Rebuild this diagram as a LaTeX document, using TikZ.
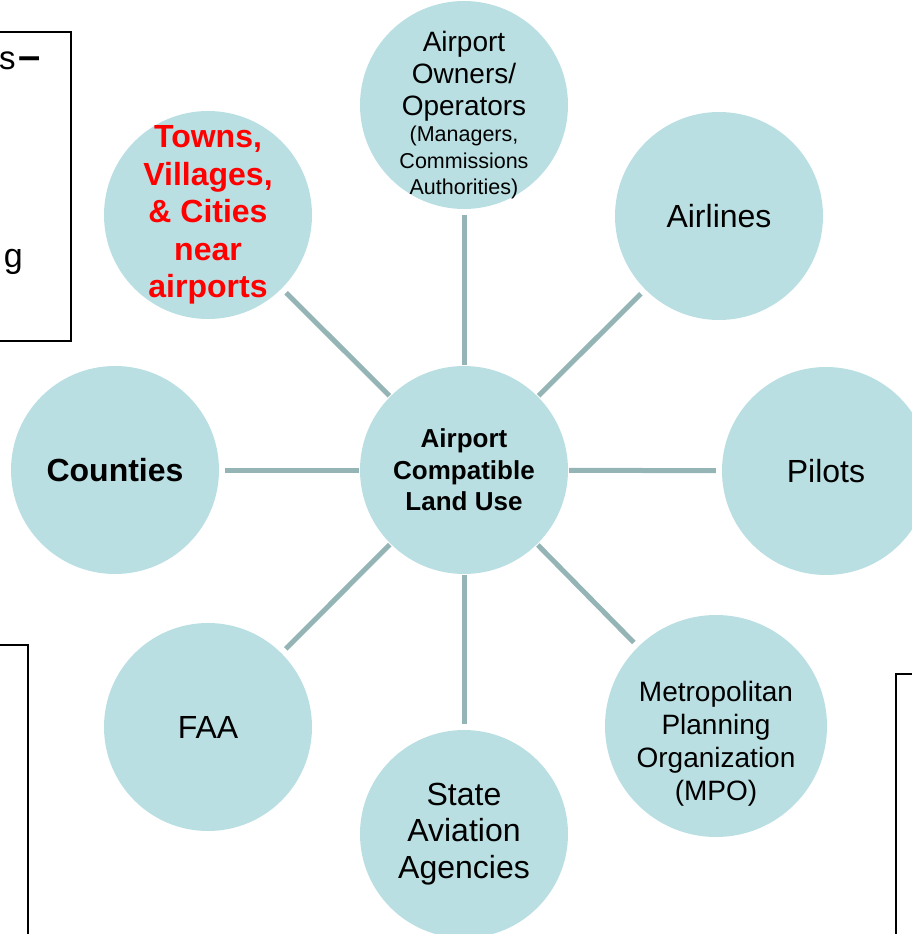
\documentclass[tikz,border=0pt]{standalone}
\usepackage{fontspec}
\setmainfont{Liberation Sans}
\usetikzlibrary{calc}
\definecolor{bubblefill}{RGB}{186,223,226}
\definecolor{spokecol}{RGB}{148,180,182}
\newcommand\ownsmall{\fontsize{21.5}{26.5}\selectfont}
\tikzset{
	bubble/.style={circle, fill=bubblefill, minimum size=208pt, inner sep=-30pt, align=center},
	spoke/.style={draw=spokecol, line width=5pt, shorten >=6pt, shorten <=1pt},
	edgebox/.style={draw=black, line width=1.8pt},
	plain/.style={font=\fontsize{32}{36.5}\selectfont},
	heavy/.style={font=\bfseries\fontsize{32}{37.5}\selectfont},
}

\begin{document}
\begin{tikzpicture}[x=1pt, y=-1pt]
			%%%%% START %%%%%
			\useasboundingbox (0,0) rectangle (912,934);
			\clip (0,0) rectangle (912,934);
			
			\draw[edgebox, line width=1.4pt] (-20, 32) rectangle (71, 341);
			\node[anchor=base east, inner sep=0pt, font=\fontsize{33}{40}\selectfont] (boxa) at (41, 70) {s\hspace{3pt}{\fontsize{40}{40}\bfseries –}};
			\node[anchor=base east, inner sep=0pt, font=\fontsize{34}{40}\selectfont] (boxb) at (23, 267) {g};
			\draw[edgebox] (-20, 645) rectangle (28, 960);
			\draw[edgebox] (896, 674) rectangle (960, 960);
			
			\node[bubble, font=\bfseries\fontsize{26}{31.5}\selectfont] (hub) at (464, 470) {Airport\\Compatible\\Land Use};
			
			\node[bubble] (own) at (464, 105) {};
			\coordinate (ownc) at ($(own.center)+(0,10)$);
			\node[align=center, inner sep=0pt, font=\fontsize{28}{26.5}\selectfont] (ownt) at (ownc) {Airport\\[5.5pt]Owners/\\[5.5pt]Operators\\\ownsmall(Managers,\\\ownsmall Commissions\\\ownsmall Authorities)};
			\node[bubble, plain] (air) at (719, 216) {Airlines};
			\node[bubble, plain] (pil) at (826, 471) {Pilots};
			\node[bubble, minimum size=222pt] (mpo) at (716, 726) {};
			\coordinate (mpoc) at ($(mpo.center)+(0,18)$);
			\node[align=center, inner sep=0pt, font=\fontsize{28}{33}\selectfont] (mpot) at (mpoc) {Metropolitan\\Planning\\Organization\\(MPO)};
			\node[bubble, plain] (sta) at (464, 834) {State\\Aviation\\Agencies};
			\node[bubble, plain] (faa) at (208, 727) {FAA};
			\node[bubble, heavy] (cnt) at (115, 470) {Counties};
			\node[bubble, heavy, text=red] (twn) at (208, 215) {Towns,\\Villages,\\\& Cities\\near\\airports};
			
			\draw[spoke] (hub) -- (own);
			\draw[spoke] (hub) -- (air);
			\draw[spoke] (hub) -- (pil);
			\draw[spoke] (hub) -- (mpo);
			\draw[spoke] (hub) -- (sta);
			\draw[spoke] (hub) -- (faa);
			\draw[spoke] (hub) -- (cnt);
			\draw[spoke] (hub) -- (twn);
			
			%%%%% END %%%%%
\end{tikzpicture}
\end{document}
